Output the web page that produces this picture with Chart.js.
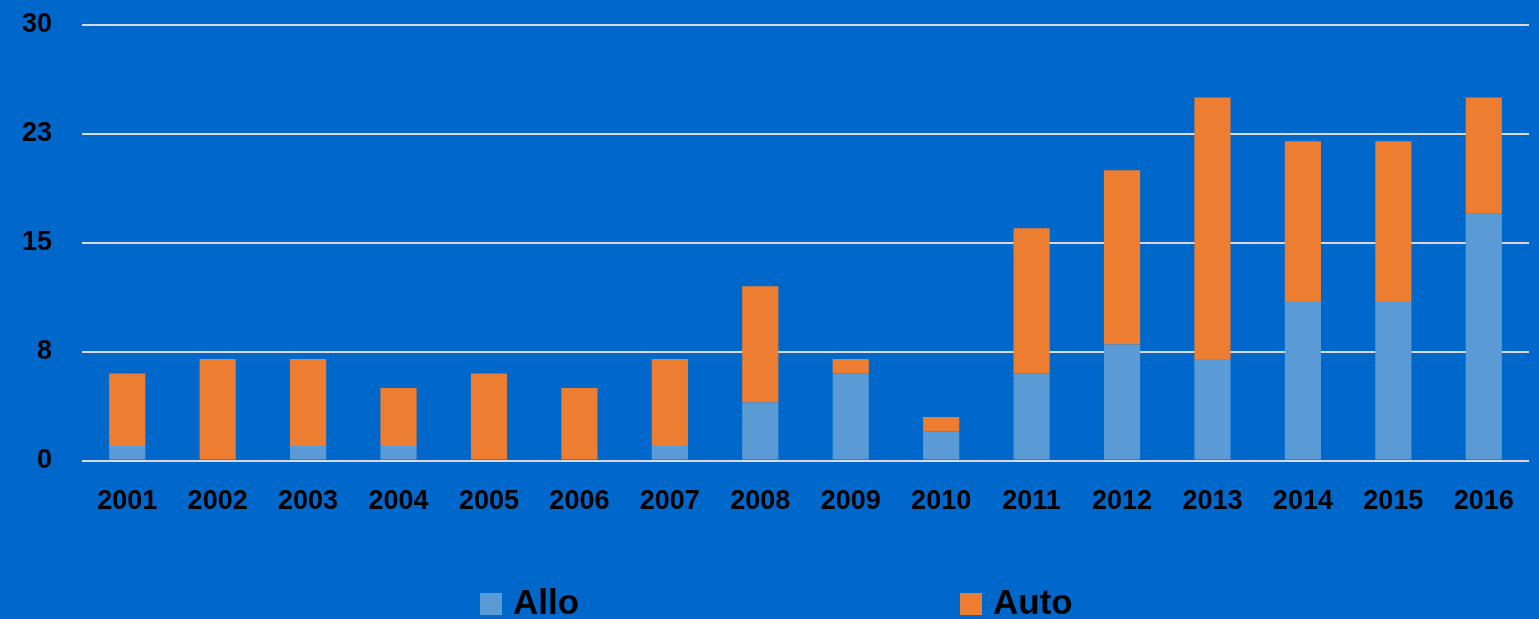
<!DOCTYPE html>
<html>
<head>
<meta charset="utf-8">
<script src="https://cdn.jsdelivr.net/npm/chart.js@4/dist/chart.umd.min.js"></script>
<style>
  html, body { margin: 0; padding: 0; background: #0067CB; overflow: hidden; }
  #wrap { position: relative; width: 1539px; height: 619px; }
  #legend { position: absolute; left: 0; top: 584px; width: 1539px; height: 40px;
            font-family: "Liberation Sans", Arial, sans-serif; font-weight: bold; font-size: 35px; line-height: 35px; color: #000; }
  .item { position: absolute; top: 0; white-space: nowrap; }
  .box { display: inline-block; width: 22px; height: 22px; margin-right: 11px; vertical-align: -1px; }
</style>
</head>
<body>
<div id="wrap">
  <canvas id="stackChart" width="1539" height="619"></canvas>
  <div id="legend"></div>
</div>
<script>
// years on the x axis
const years = ['2001', '2002', '2003', '2004', '2005', '2006', '2007', '2008',
               '2009', '2010', '2011', '2012', '2013', '2014', '2015', '2016'];
// allogeneic counts (bottom segment)
const alloValues = [1, 0, 1, 1, 0, 0, 1, 4, 6, 2, 6, 8, 7, 11, 11, 17];
// autologous counts (top segment)
const autoValues = [5, 7, 6, 4, 6, 5, 6, 8, 1, 1, 10, 12, 18, 11, 11, 8];
// y axis labels as shown (steps of 7.5, rounded)
const yTickLabels = ['0', '8', '15', '23', '30'];

const seriesNames = ['Allo', 'Auto'];
const seriesColors = ['#5B9BD5', '#ED7D31'];

document.addEventListener('DOMContentLoaded', () => {
    const ctx = document.getElementById('stackChart').getContext('2d');
    const tickFont = { family: 'Liberation Sans', weight: 'bold', size: 27 };

    new Chart(ctx, {
        type: 'bar',
        data: {
            labels: years,
            datasets: [
                { label: seriesNames[0], data: alloValues, backgroundColor: seriesColors[0] },
                { label: seriesNames[1], data: autoValues, backgroundColor: seriesColors[1] }
            ]
        },
        options: {
            responsive: false,
            animation: false,
            layout: { padding: { top: 25, left: 21, right: 6, bottom: 76 } },
            datasets: { bar: { categoryPercentage: 1, barPercentage: 0.4 } },
            scales: {
                x: {
                    stacked: true,
                    grid: { display: false, drawTicks: false },
                    border: { display: false },
                    ticks: { color: '#000', font: tickFont, padding: 25, maxRotation: 0 }
                },
                y: {
                    stacked: true,
                    min: 0,
                    max: 30,
                    grid: { color: '#D9D9D9', lineWidth: 2, drawTicks: false },
                    border: { display: false },
                    afterFit: scale => {
                        // fixed axis width, no extra label overhang above/below
                        scale.width = 61;
                        scale.paddingTop = 0;
                        scale.paddingBottom = 0;
                    },
                    ticks: {
                        stepSize: 7.5,
                        color: '#000',
                        font: tickFont,
                        padding: 30,
                        callback: function(value, index) {
                            return yTickLabels[index];
                        }
                    }
                }
            },
            plugins: {
                legend: { display: false },
                tooltip: { enabled: false }
            }
        }
    });

    // legend row along the bottom edge
    const legend = document.getElementById('legend');
    const itemLeft = [480, 960];
    seriesNames.forEach((name, i) => {
        const item = document.createElement('div');
        item.className = 'item';
        item.style.left = itemLeft[i] + 'px';
        item.innerHTML = '<span class="box" style="background:' + seriesColors[i] + '"></span>' + name;
        legend.appendChild(item);
    });
});
</script>
</body>
</html>
